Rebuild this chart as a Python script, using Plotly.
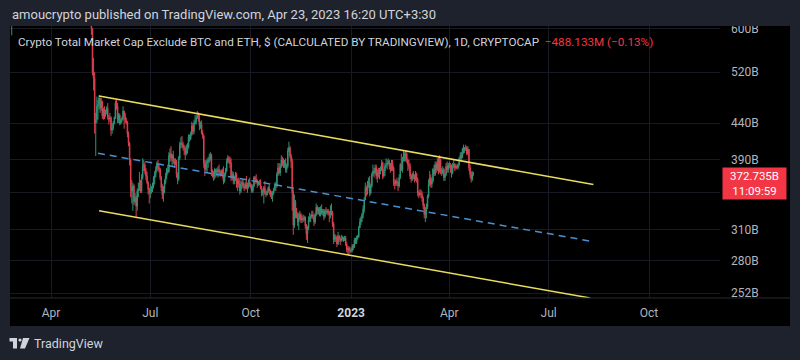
import math
import pandas as pd
import plotly.graph_objects as go

# ---------------- data (values in billions USD) ----------------
pre_start = "2022-02-22"
pre_first_open = 700
pre_close = [680, 660, 690, 705, 700, 680, 720]
pre_high = [705, 690, 700, 720, 725, 710, 730]
pre_low = [650, 640, 587, 675, 690, 665, 670]

main_start = "2022-05-03"
main_first_open = 690
close_b = [
    # May 2022
    700, 730, 680, 660, 640, 600, 520, 510, 440, 445, 465, 468, 478, 462, 472, 450, 460, 452, 456, 462, 448, 446, 448, 430, 433, 440, 448, 470, 466,
    # Jun
    445, 452, 440, 445, 446, 458, 450, 444, 441, 425, 412, 390, 356, 352, 358, 340, 345, 335, 352, 355, 362, 352, 368, 382, 384, 376, 370, 362, 354, 350,
    # Jul
    352, 355, 358, 368, 372, 378, 385, 380, 378, 368, 356, 348, 355, 362, 370, 378, 375, 395, 398, 392, 396, 388, 385, 388, 372, 366, 392, 410, 412, 410, 406,
    # Aug
    404, 398, 402, 406, 420, 418, 424, 436, 428, 440, 442, 448, 452, 446, 436, 438, 426, 422, 385, 378, 386, 388, 390, 392, 396, 376, 374, 370, 378, 374, 376,
    # Sep
    378, 375, 372, 376, 373, 364, 372, 376, 388, 392, 390, 386, 368, 372, 364, 366, 372, 360, 364, 360, 352, 360, 362, 358, 356, 360, 356, 358, 362, 360,
    # Oct
    358, 352, 358, 368, 366, 364, 360, 362, 363, 356, 350, 352, 356, 350, 348, 352, 356, 352, 348, 346, 350, 354, 360, 358, 372, 380, 374, 382, 390, 386, 384,
    # Nov
    386, 378, 382, 402, 406, 395, 388, 350, 315, 340, 330, 326, 318, 322, 326, 320, 322, 321, 323, 314, 306, 312, 320, 322, 324, 326, 324, 318, 326, 334,
    # Dec
    330, 332, 326, 332, 328, 330, 324, 330, 328, 330, 328, 326, 330, 328, 316, 300, 303, 302, 296, 304, 300, 300, 301, 302, 300, 302, 296, 290, 292, 290, 289,
    # Jan 2023
    290, 294, 293, 300, 298, 302, 303, 312, 318, 322, 326, 332, 342, 356, 352, 360, 362, 350, 358, 372, 376, 374, 380, 370, 374, 372, 376, 378, 386, 370, 376,
    # Feb
    382, 384, 386, 388, 382, 378, 386, 380, 362, 360, 364, 362, 358, 368, 384, 378, 390, 392, 394, 398, 390, 384, 382, 370, 366, 372, 370, 366,
    # Mar
    372, 366, 350, 348, 350, 348, 344, 336, 326, 330, 334, 346, 360, 368, 360, 364, 378, 372, 384, 378, 386, 376, 390, 376, 374, 378, 368, 372, 382, 378, 384,
    # Apr
    384, 378, 374, 382, 384, 380, 382, 380, 384, 392, 396, 394, 404, 402, 404, 406, 398, 404, 380, 372, 366, 373.223, 372.735,
]
high_b = [
    715, 740, 735, 690, 665, 645, 600, 545, 520, 455, 480, 475, 482, 478, 478, 474, 463, 465, 460, 465, 470, 452, 455, 450, 440, 443, 450, 474, 476,
    470, 455, 454, 447, 450, 465, 458, 455, 448, 443, 428, 414, 392, 365, 362, 360, 350, 347, 355, 362, 375, 365, 372, 392, 390, 387, 380, 375, 364, 356,
    360, 358, 362, 370, 376, 382, 388, 390, 384, 380, 370, 360, 358, 366, 374, 380, 384, 400, 405, 408, 398, 402, 392, 392, 390, 374, 395, 414, 420, 422, 414,
    410, 408, 410, 412, 424, 424, 428, 442, 440, 445, 452, 451, 458, 456, 452, 442, 444, 430, 424, 390, 390, 392, 394, 398, 400, 398, 378, 376, 380, 378, 380,
    382, 384, 377, 378, 379, 382, 374, 380, 392, 396, 395, 394, 392, 376, 375, 370, 375, 374, 367, 368, 366, 364, 366, 365, 361, 363, 370, 362, 366, 368,
    362, 360, 360, 370, 370, 372, 366, 364, 365, 366, 358, 354, 358, 364, 352, 354, 358, 360, 354, 352, 352, 356, 362, 363, 375, 386, 386, 385, 396, 394, 392,
    390, 392, 385, 406, 414, 408, 398, 392, 354, 348, 342, 333, 328, 328, 330, 328, 325, 326, 325, 324, 316, 314, 324, 328, 326, 330, 330, 326, 328, 338,
    336, 334, 334, 335, 337, 332, 332, 332, 334, 332, 332, 330, 336, 338, 330, 318, 306, 305, 304, 308, 305, 303, 305, 304, 303, 304, 304, 298, 294, 294, 293,
    292, 296, 296, 302, 302, 304, 305, 314, 322, 324, 328, 336, 345, 362, 358, 364, 368, 370, 360, 374, 384, 380, 384, 384, 378, 380, 380, 382, 390, 388, 379,
    386, 392, 390, 392, 390, 386, 390, 390, 382, 366, 366, 368, 364, 372, 386, 398, 394, 402, 400, 402, 402, 392, 390, 386, 372, 374, 376, 372,
    376, 374, 368, 352, 354, 354, 352, 346, 338, 334, 338, 348, 366, 376, 372, 368, 380, 384, 388, 388, 392, 394, 396, 392, 380, 382, 380, 374, 386, 388, 386,
    388, 386, 384, 386, 390, 386, 385, 384, 386, 394, 400, 400, 406, 410, 407, 410, 408, 408, 404, 384, 376, 376, 375,
]
low_b = [
    690, 695, 670, 640, 630, 588, 515, 490, 425, 395, 440, 445, 460, 455, 458, 446, 445, 446, 449, 453, 445, 438, 442, 422, 425, 430, 438, 446, 460,
    440, 440, 437, 438, 441, 444, 432, 440, 438, 420, 408, 383, 345, 338, 330, 336, 338, 322, 330, 345, 352, 350, 350, 366, 376, 372, 365, 360, 348, 338,
    344, 349, 351, 355, 360, 368, 375, 376, 374, 365, 352, 343, 340, 350, 360, 366, 372, 374, 388, 388, 382, 385, 380, 383, 368, 360, 364, 390, 405, 406, 402,
    396, 390, 396, 398, 405, 414, 416, 422, 424, 424, 438, 438, 446, 442, 430, 432, 424, 418, 380, 370, 376, 374, 380, 386, 389, 370, 368, 364, 366, 368, 370,
    368, 372, 369, 370, 368, 360, 362, 369, 375, 386, 385, 380, 364, 365, 360, 360, 364, 356, 352, 356, 348, 350, 355, 355, 352, 354, 354, 350, 355, 357,
    355, 350, 350, 357, 360, 362, 356, 358, 359, 354, 346, 347, 338, 348, 345, 347, 350, 348, 345, 343, 340, 348, 352, 352, 356, 370, 372, 370, 380, 382, 380,
    380, 374, 374, 380, 400, 392, 380, 330, 305, 312, 322, 322, 314, 310, 320, 317, 317, 318, 319, 311, 300, 297, 310, 318, 318, 322, 321, 314, 316, 324,
    326, 326, 324, 324, 326, 325, 320, 322, 326, 326, 325, 318, 322, 325, 313, 296, 298, 298, 293, 295, 298, 295, 298, 299, 298, 299, 294, 288, 286, 285, 287,
    288, 288, 290, 292, 296, 296, 300, 302, 312, 315, 318, 322, 328, 342, 346, 348, 356, 346, 348, 356, 370, 368, 372, 366, 362, 368, 366, 372, 376, 366, 368,
    370, 380, 378, 384, 378, 374, 376, 376, 358, 354, 358, 358, 352, 356, 366, 376, 374, 388, 388, 388, 386, 376, 378, 366, 362, 364, 366, 362,
    364, 362, 346, 344, 346, 344, 340, 332, 322, 318, 322, 332, 344, 358, 356, 356, 362, 370, 370, 374, 376, 372, 374, 372, 370, 372, 364, 364, 370, 374, 374,
    380, 374, 368, 372, 380, 376, 378, 378, 378, 382, 390, 388, 392, 398, 399, 402, 396, 396, 376, 368, 362, 364, 370,
]

# channel drawings (date, value in B)
upper_dates = ["2022-05-15", "2023-08-11"]
upper_vals = [481.0, 359.7]
lower_dates = ["2022-05-15", "2023-08-08"]
lower_vals = [330.2, 247.9]
mid_dates = ["2022-05-14", "2023-08-08"]
mid_vals = [398.7, 298.8]

y_ticks = [252, 280, 310, 350, 390, 440, 520, 600]
x_tick_dates = ["2022-04-01", "2022-07-01", "2022-10-01", "2023-01-01", "2023-04-01", "2023-07-01", "2023-10-01"]
x_tick_text = ["Apr", "Jul", "Oct", '<span style="color:#d1d4dc"><b>2023</b></span>', "Apr", "Jul", "Oct"]
change_text = "\u2212488.133M (\u22120.13%)"
countdown = "11:09:59"

# ---------------- build candles ----------------
def build(start, first_open, c, h, l):
    d = pd.date_range(start, periods=len(c), freq="D")
    o = [first_open] + c[:-1]
    hh = [max(a, b, x) for a, b, x in zip(h, o, c)]
    ll = [min(a, b, x) for a, b, x in zip(l, o, c)]
    return list(d), o, hh, ll

d1, o1, h1, l1 = build(pre_start, pre_first_open, pre_close, pre_high, pre_low)
d2, o2, h2, l2 = build(main_start, main_first_open, close_b, high_b, low_b)
dates = d1 + d2
opens = o1 + o2
highs = h1 + h2
lows = l1 + l2
closes = pre_close + close_b
last = closes[-1]

# ---------------- geometry ----------------
W, H = 800, 360
L, R, T, B = 10, 80, 26, 62
PW, PH = W - L - R, H - T - B
def px(x):
    return (x - L) / PW
def py(y):
    return (H - B - y) / PH

BG = "#1e222d"
UP = "#2e9478"
DN = "#dc404f"
TXT = "#d1d4dc"
AX = "#b2b5be"
GRID = "#171a22"
FONT = "Roboto"

fig = go.Figure()
fig.add_trace(go.Candlestick(
    x=dates, open=opens, high=highs, low=lows, close=closes,
    increasing=dict(line=dict(color=UP, width=1), fillcolor=UP),
    decreasing=dict(line=dict(color=DN, width=1), fillcolor=DN),
    whiskerwidth=0, hoverinfo="skip", showlegend=False,
))
fig.add_trace(go.Scatter(x=upper_dates, y=upper_vals, mode="lines",
                         line=dict(color="#e9dc5f", width=1.5), hoverinfo="skip", showlegend=False))
fig.add_trace(go.Scatter(x=lower_dates, y=lower_vals, mode="lines",
                         line=dict(color="#e9dc5f", width=1.5), hoverinfo="skip", showlegend=False))
fig.add_trace(go.Scatter(x=mid_dates, y=mid_vals, mode="lines",
                         line=dict(color="#4a8fd0", width=1.5, dash="7px,5px"), hoverinfo="skip", showlegend=False))

shapes = [
    # black chart panel
    dict(type="rect", xref="paper", yref="paper", x0=px(10), x1=px(790), y0=py(326), y1=py(26),
         fillcolor="#000000", line=dict(width=0), layer="below"),
    # last price dotted line
    dict(type="line", xref="paper", yref="y", x0=0, x1=px(722), y0=math.log10(last), y1=math.log10(last),
         line=dict(color="#f23645", width=1, dash="dot"), layer="above"),
    # clip of price-scale labels outside panel
    dict(type="rect", xref="paper", yref="paper", x0=px(720), x1=px(792), y0=py(26), y1=py(8),
         fillcolor=BG, line=dict(width=0), layer="above"),
    dict(type="rect", xref="paper", yref="paper", x0=px(720), x1=px(790), y0=py(326), y1=py(299),
         fillcolor="#000000", line=dict(width=0), layer="above"),
    # time-scale separator
    dict(type="line", xref="paper", yref="paper", x0=px(10), x1=px(790), y0=py(298), y1=py(298),
         line=dict(color="#262a33", width=1), layer="above"),
    # TradingView logo
    dict(type="rect", xref="paper", yref="paper", x0=px(9.5), x1=px(17), y0=py(341.5), y1=py(338),
         fillcolor=TXT, line=dict(width=0)),
    dict(type="rect", xref="paper", yref="paper", x0=px(13), x1=px(17), y0=py(348.5), y1=py(338),
         fillcolor=TXT, line=dict(width=0)),
    dict(type="circle", xref="paper", yref="paper", x0=px(18.4), x1=px(21.6), y0=py(341.6), y1=py(338.4),
         fillcolor=TXT, line=dict(width=0)),
    dict(type="path", xref="paper", yref="paper",
         path=f"M {px(23)},{py(338)} L {px(29.5)},{py(338)} L {px(25)},{py(348.5)} L {px(20)},{py(348.5)} Z",
         fillcolor=TXT, line=dict(width=0)),
]

annotations = [
    dict(xref="paper", yref="paper", x=px(10), y=py(15), xanchor="left", yanchor="middle", showarrow=False,
         text="amoucrypto published on TradingView.com, Apr 23, 2023 16:20 UTC+3:30",
         font=dict(family=FONT, size=13, color=TXT)),
    dict(xref="paper", yref="paper", x=px(16), y=py(42), xanchor="left", yanchor="middle", showarrow=False,
         text="Crypto Total Market Cap Exclude BTC and ETH, $ (CALCULATED BY TRADINGVIEW), 1D, CRYPTOCAP  "
              f'<span style="color:#f23645">{change_text}</span>',
         font=dict(family=FONT, size=11.7, color=TXT)),
    dict(xref="paper", yref="y", x=px(722), y=math.log10(last), xanchor="left", yanchor="top", yshift=7,
         showarrow=False, width=61,
         text=f"{last:.3f}B<br>{countdown}", align="center", bgcolor="#f23645", borderpad=1,
         font=dict(family=FONT, size=11.5, color="#ffffff")),
    dict(xref="paper", yref="paper", x=px(32), y=py(343), xanchor="left", yanchor="middle", showarrow=False,
         text="TradingView", font=dict(family=FONT, size=12.5, color=TXT)),
]

fig.update_layout(
    width=W, height=H, margin=dict(l=L, r=R, t=T, b=B, autoexpand=False),
    paper_bgcolor=BG, plot_bgcolor="#000000",
    shapes=shapes, annotations=annotations, showlegend=False,
    font=dict(family=FONT, size=12, color=AX),
    xaxis=dict(type="date", range=["2022-02-22 10:00", "2023-12-05"], automargin=False,
               tickvals=x_tick_dates, ticktext=x_tick_text, ticks="", ticklabelstandoff=6,
               showgrid=True, gridcolor=GRID, gridwidth=1, zeroline=False, showline=False,
               rangeslider=dict(visible=False), tickfont=dict(family=FONT, size=12, color=AX), fixedrange=True),
    yaxis=dict(type="log", side="right", range=[math.log10(247.9), math.log10(605.2)], automargin=False,
               tickvals=y_ticks, ticktext=[f"{v}B" for v in y_ticks], ticks="", ticklabelstandoff=10,
               showgrid=True, gridcolor=GRID, gridwidth=1, zeroline=False, showline=False,
               tickfont=dict(family=FONT, size=12, color=AX), fixedrange=True),
)

fig.write_html("out.html", config={"displayModeBar": False},
               post_script="document.body.style.margin='0px';document.body.style.background='#1e222d';")
